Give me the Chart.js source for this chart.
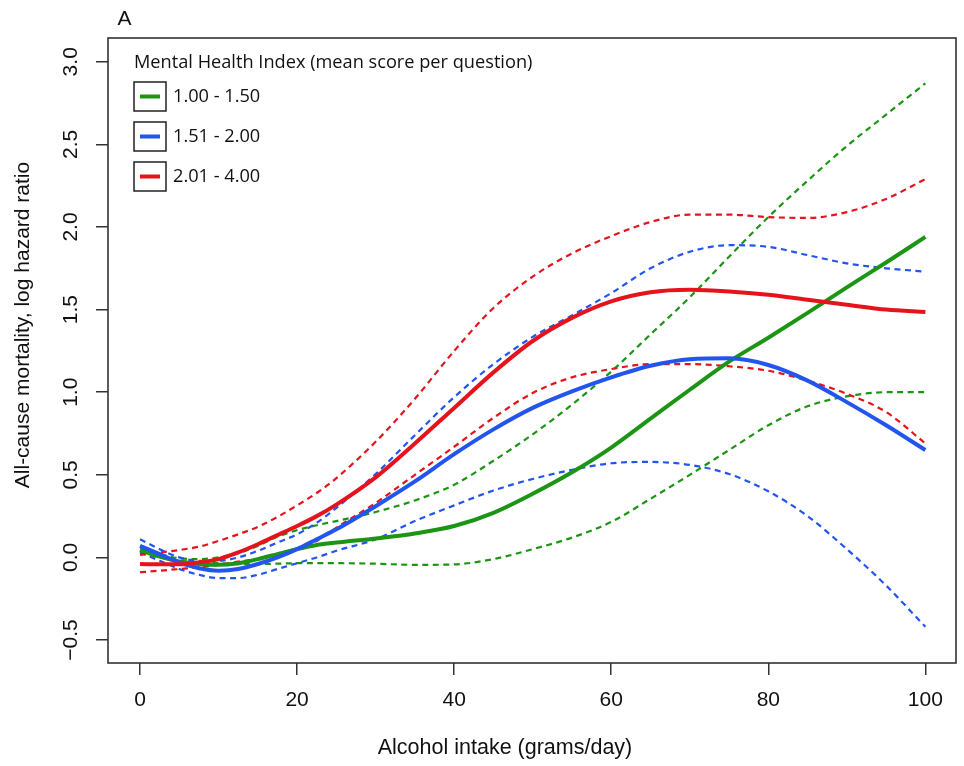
<!DOCTYPE html>
<html>
<head>
<meta charset="utf-8">
<script src="https://cdn.jsdelivr.net/npm/chart.js@4.4.1/dist/chart.umd.min.js"></script>
<style>
html,body{margin:0;padding:0;background:#fff;}
#wrap{width:964px;height:766px;position:relative;}
</style>
</head>
<body>
<div id="wrap"><canvas id="c" width="964" height="766"></canvas></div>
<script>
// ---- data ----
const xValues = [0,2.5,5,7.5,10,12.5,15,17.5,20,22.5,25,30,35,40,45,50,55,60,65,70,75,80,85,90,95,100];

const greenEst   = [0.045,0.005,-0.025,-0.04,-0.045,-0.035,-0.01,0.02,0.05,0.075,0.09,0.115,0.145,0.19,0.27,0.385,0.515,0.665,0.84,1.015,1.185,1.33,1.48,1.635,1.785,1.94];
const greenUpper = [0.05,0.02,-0.005,-0.01,0.0,0.025,0.07,0.125,0.165,0.195,0.22,0.275,0.345,0.44,0.585,0.745,0.925,1.125,1.35,1.575,1.82,2.06,2.28,2.49,2.68,2.87];
const greenLower = [0.035,0.0,-0.02,-0.03,-0.035,-0.04,-0.04,-0.038,-0.035,-0.035,-0.035,-0.038,-0.045,-0.042,-0.01,0.05,0.12,0.215,0.355,0.50,0.65,0.80,0.915,0.975,1.0,1.0];

const blueEst    = [0.07,0.02,-0.03,-0.065,-0.08,-0.07,-0.04,0.0,0.05,0.11,0.17,0.31,0.46,0.625,0.775,0.905,1.005,1.09,1.16,1.20,1.205,1.165,1.07,0.94,0.80,0.65];
const blueUpper  = [0.11,0.05,0.0,-0.02,-0.02,0.0,0.04,0.09,0.14,0.21,0.30,0.505,0.74,0.97,1.17,1.335,1.465,1.60,1.75,1.85,1.89,1.88,1.83,1.78,1.75,1.73];
const blueLower  = [0.03,-0.02,-0.07,-0.105,-0.125,-0.125,-0.105,-0.07,-0.035,0.0,0.04,0.11,0.22,0.315,0.405,0.475,0.53,0.57,0.578,0.56,0.505,0.40,0.25,0.05,-0.17,-0.42];

const redEst     = [-0.04,-0.042,-0.042,-0.03,-0.01,0.03,0.08,0.135,0.19,0.25,0.32,0.485,0.69,0.905,1.12,1.31,1.45,1.55,1.605,1.62,1.61,1.59,1.56,1.53,1.50,1.485];
const redUpper   = [0.015,0.03,0.045,0.065,0.10,0.14,0.185,0.245,0.315,0.39,0.48,0.70,0.96,1.25,1.51,1.70,1.84,1.945,2.03,2.075,2.075,2.06,2.055,2.09,2.17,2.29];
const redLower   = [-0.09,-0.08,-0.07,-0.06,-0.045,-0.025,-0.01,0.02,0.055,0.10,0.18,0.33,0.50,0.67,0.845,0.995,1.09,1.14,1.17,1.17,1.157,1.13,1.07,0.99,0.88,0.69];

const xTickValues = [0,20,40,60,80,100];
const xTickLabels = ['0','20','40','60','80','100'];
const yTickValues = [-0.5,0,0.5,1,1.5,2,2.5,3];
const yTickLabels = ['\u22120.5','0.0','0.5','1.0','1.5','2.0','2.5','3.0'];

const seriesLabels = ['1.00 - 1.50','1.51 - 2.00','2.01 - 4.00'];
const seriesColors = ['#1c9414','#2255ee','#e5141c'];
const legendTitle = 'Mental Health Index (mean score per question)';
const panelLabel = 'A';
const xTitle = 'Alcohol intake (grams/day)';
const yTitle = 'All-cause mortality, log hazard ratio';

// ---- build datasets ----
const pts = arr => arr.map((v,i)=>({x:xValues[i], y:v}));
const groups = [
  {est:greenEst, up:greenUpper, lo:greenLower},
  {est:blueEst,  up:blueUpper,  lo:blueLower},
  {est:redEst,   up:redUpper,   lo:redLower}
];
const datasets = [];
groups.forEach((g,gi)=>{
  const col = seriesColors[gi];
  datasets.push({label:seriesLabels[gi], data:pts(g.est), borderColor:col, borderWidth:4, order:10-gi,
    pointRadius:0, cubicInterpolationMode:'monotone', fill:false});
  datasets.push({label:seriesLabels[gi]+' upper', data:pts(g.up), borderColor:col, borderWidth:2.2, borderDash:[6,4.5], order:30-gi,
    pointRadius:0, cubicInterpolationMode:'monotone', fill:false});
  datasets.push({label:seriesLabels[gi]+' lower', data:pts(g.lo), borderColor:col, borderWidth:2.2, borderDash:[6,4.5], order:30-gi,
    pointRadius:0, cubicInterpolationMode:'monotone', fill:false});
});

const axisFamily = '"Liberation Sans", Arial, sans-serif';
const axisFont = {family:axisFamily, size:21};
const legendFontFamily = '"Open Sans", sans-serif';

const framePlugin = {
  id:'frame',
  afterDraw(chart){
    const {ctx, chartArea:a} = chart;
    ctx.save();
    ctx.strokeStyle = '#333';
    ctx.lineWidth = 1.6;
    ctx.strokeRect(a.left, a.top, a.right-a.left, a.bottom-a.top);
    // panel label
    ctx.fillStyle = '#111';
    ctx.font = '21px ' + axisFamily;
    ctx.textAlign = 'center';
    ctx.textBaseline = 'alphabetic';
    ctx.fillText(panelLabel, a.left + 16.5, a.top - 13);
    // axis titles
    ctx.textBaseline = 'middle';
    ctx.font = '21.5px ' + axisFamily;
    ctx.fillText(xTitle, 505, 748);
    ctx.save();
    ctx.translate(23, 325);
    ctx.rotate(-Math.PI/2);
    ctx.font = '21px ' + axisFamily;
    ctx.fillText(yTitle, 0, 0);
    ctx.restore();
    // legend
    const lx = a.left + 26;
    ctx.font = '18.2px ' + legendFontFamily;
    ctx.textAlign = 'left';
    ctx.textBaseline = 'middle';
    ctx.fillStyle = '#111';
    ctx.fillText(legendTitle, lx, a.top + 25);
    seriesLabels.forEach((lab,i)=>{
      const cy = a.top + 58.5 + i*40;
      ctx.strokeStyle = '#222';
      ctx.lineWidth = 1.5;
      ctx.strokeRect(lx, cy-14.5, 32, 29);
      ctx.strokeStyle = seriesColors[i];
      ctx.lineWidth = 4;
      ctx.beginPath();
      ctx.moveTo(lx+6, cy); ctx.lineTo(lx+26, cy);
      ctx.stroke();
      ctx.fillStyle = '#111';
      ctx.fillText(lab, lx+39, cy);
    });
    ctx.restore();
  }
};

new Chart(document.getElementById('c'), {
  type:'line',
  data:{datasets},
  options:{
    responsive:false,
    animation:false,
    devicePixelRatio:1,
    layout:{padding:{left:0,right:8,top:38,bottom:0}},
    plugins:{legend:{display:false}, tooltip:{enabled:false}, title:{display:false}},
    scales:{
      x:{
        type:'linear', min:-4.08, max:103.9,
        afterBuildTicks: s => { s.ticks = xTickValues.map(v=>({value:v})); },
        afterFit: s => { s.height = 103; },
        grid:{drawOnChartArea:false, drawTicks:true, tickLength:12, color:'#333', lineWidth:1.5},
        border:{display:false},
        ticks:{font:axisFont, color:'#111', padding:13, minRotation:0, maxRotation:0, autoSkip:false,
          callback:(v,i)=>xTickLabels[i]},
        title:{display:false}
      },
      y:{
        type:'linear', min:-0.639, max:3.144,
        afterBuildTicks: s => { s.ticks = yTickValues.map(v=>({value:v})); },
        afterFit: s => { s.width = 108; },
        grid:{drawOnChartArea:false, drawTicks:true, tickLength:12, color:'#333', lineWidth:1.5},
        border:{display:false},
        ticks:{font:axisFont, color:'#111', padding:4, minRotation:90, maxRotation:90, crossAlign:'center', autoSkip:false,
          callback:(v,i)=>yTickLabels[i]},
        title:{display:false}
      }
    }
  },
  plugins:[framePlugin]
});
</script>
</body>
</html>
